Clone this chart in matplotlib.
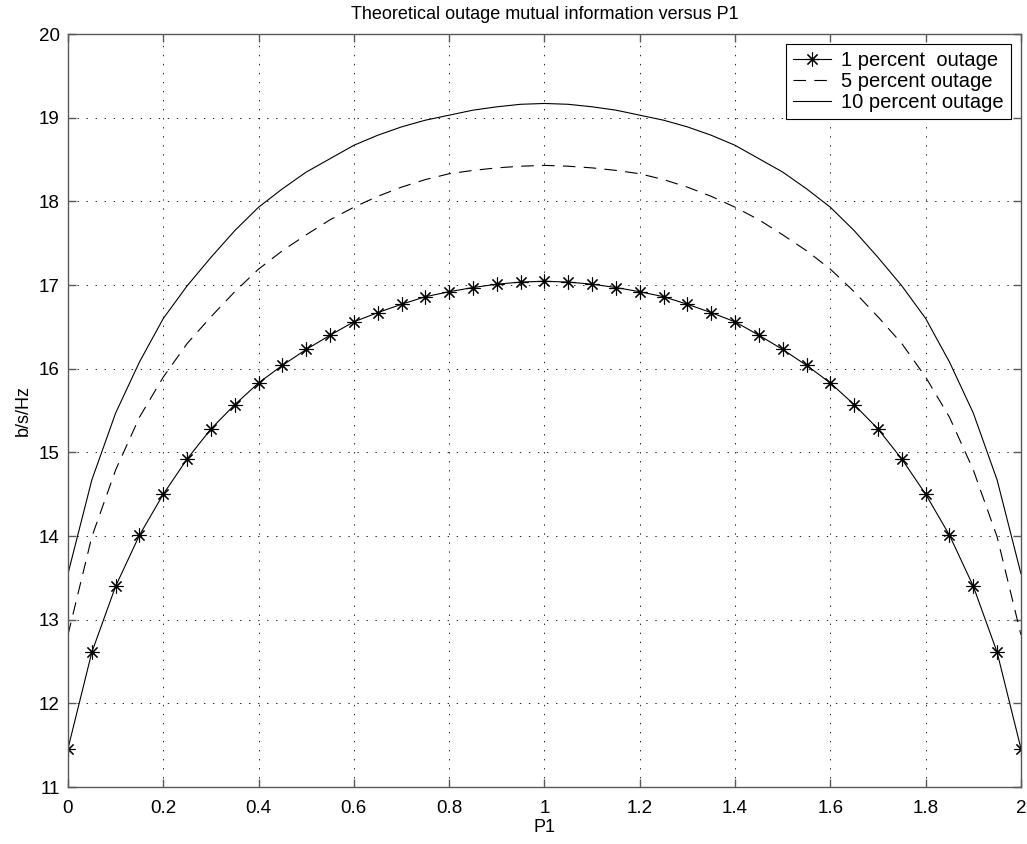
import matplotlib
matplotlib.use("Agg")
import matplotlib.pyplot as plt
import numpy as np

plt.rcParams['font.family'] = ['Liberation Sans', 'DejaVu Sans']
plt.rcParams['lines.scale_dashes'] = False

# P1 samples (0 .. 2, step 0.05)
p1 = np.arange(41) * 0.05

# 1 percent outage (b/s/Hz)
out1 = [11.46, 12.61, 13.40, 14.01, 14.50, 14.92, 15.28, 15.57, 15.83, 16.04,
        16.23, 16.40, 16.56, 16.67, 16.77, 16.86, 16.92, 16.97, 17.01, 17.035,
        17.045,
        17.035, 17.01, 16.97, 16.92, 16.86, 16.77, 16.67, 16.56, 16.40, 16.23,
        16.04, 15.83, 15.57, 15.28, 14.92, 14.50, 14.01, 13.40, 12.61, 11.46]

# 5 percent outage
out5 = [12.82, 13.99, 14.79, 15.42, 15.90, 16.30, 16.62, 16.92, 17.19, 17.41,
        17.60, 17.78, 17.93, 18.06, 18.17, 18.26, 18.33, 18.37, 18.40, 18.42,
        18.43,
        18.42, 18.40, 18.37, 18.33, 18.26, 18.17, 18.06, 17.93, 17.78, 17.60,
        17.41, 17.19, 16.92, 16.62, 16.30, 15.90, 15.42, 14.79, 13.99, 12.82]

# 10 percent outage
out10 = [13.55, 14.67, 15.47, 16.08, 16.60, 16.99, 17.33, 17.65, 17.93, 18.15,
         18.35, 18.51, 18.67, 18.79, 18.89, 18.97, 19.03, 19.09, 19.13, 19.16,
         19.17,
         19.16, 19.13, 19.09, 19.03, 18.97, 18.89, 18.79, 18.67, 18.51, 18.35,
         18.15, 17.93, 17.65, 17.33, 16.99, 16.60, 16.08, 15.47, 14.67, 13.55]

xticks = [0, 0.2, 0.4, 0.6, 0.8, 1, 1.2, 1.4, 1.6, 1.8, 2]
xticklabels = ['0', '0.2', '0.4', '0.6', '0.8', '1', '1.2', '1.4', '1.6', '1.8', '2']
yticks = list(range(11, 21))

fig = plt.figure(figsize=(10.27, 8.44), dpi=100)
ax = fig.add_axes([0.0662, 0.0675, 0.9279, 0.8922])

ax.plot(p1, out1, color='k', lw=0.8, marker=(8, 2, 0), ms=10, mew=0.8,
        label='1 percent  outage')
ax.plot(p1, out5, color='k', lw=0.8, dashes=(9, 6), label='5 percent outage')
ax.plot(p1, out10, color='k', lw=0.8, label='10 percent outage')

ax.set_xlim(0, 2)
ax.set_ylim(11, 20)
ax.set_xticks(xticks)
ax.set_xticklabels(xticklabels)
ax.set_yticks(yticks)
ax.tick_params(direction='in', length=6, width=1, color='0.35', labelsize=13.5,
               top=True, right=True)
ax.tick_params(axis='x', pad=9)
ax.tick_params(axis='y', pad=6)
for s in ax.spines.values():
    s.set_color('0.35')
    s.set_linewidth(1)
ax.grid(True, color='k', lw=0.6, linestyle=(0, (1, 5.5)))

ax.set_title('Theoretical outage mutual information versus P1', fontsize=13, pad=11)
ax.set_xlabel('P1', fontsize=13, labelpad=2)
ax.set_ylabel('b/s/Hz', fontsize=13, labelpad=5)

leg = ax.legend(loc='upper right', fontsize=14.5, fancybox=False, framealpha=1,
                edgecolor='k', borderaxespad=0.5, handlelength=1.9,
                borderpad=0.35, labelspacing=0.1, handletextpad=0.5)
leg.get_frame().set_linewidth(0.8)

fig.savefig('out.png', dpi=100)
